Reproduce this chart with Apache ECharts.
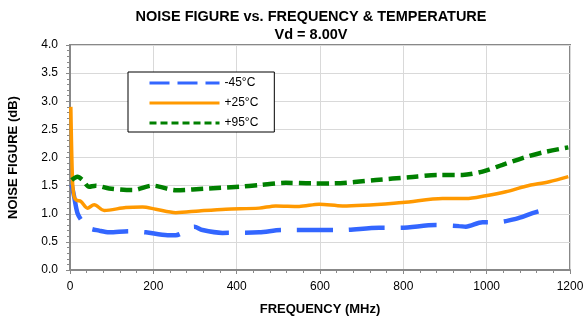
<!DOCTYPE html>
<html>
<head>
<meta charset="utf-8">
<script src="https://cdn.jsdelivr.net/npm/echarts@6/dist/echarts.min.js"></script>
<style>
  html, body { margin: 0; padding: 0; background: #fff; }
  #chart { width: 584px; height: 320px; }
</style>
</head>
<body>
<div id="chart"></div>
<script>
// -45C curve
var freqCold = [4, 10, 18, 30, 44, 70, 94, 142, 182, 234, 254, 298, 318, 366, 454, 510, 598, 650, 742, 790, 878, 934, 950, 990, 1022, 1070, 1110, 1158];
var nfCold   = [1.52, 1.30, 1.01, 0.86, 0.75, 0.70, 0.67, 0.69, 0.67, 0.62, 0.62, 0.77, 0.71, 0.66, 0.67, 0.71, 0.71, 0.71, 0.75, 0.75, 0.80, 0.78, 0.77, 0.85, 0.85, 0.91, 1.01, 1.11];
// +25C curve
var freqRoom = [2, 6, 10, 16, 26, 42, 58, 82, 134, 174, 206, 254, 310, 374, 454, 494, 550, 598, 654, 798, 894, 950, 998, 1046, 1094, 1150, 1196];
var nfRoom   = [2.90, 1.60, 1.30, 1.24, 1.22, 1.10, 1.16, 1.06, 1.11, 1.12, 1.08, 1.02, 1.05, 1.08, 1.10, 1.14, 1.13, 1.17, 1.14, 1.20, 1.27, 1.27, 1.32, 1.39, 1.49, 1.57, 1.66];
// +95C curve
var freqHot = [4, 18, 30, 46, 62, 94, 150, 198, 254, 334, 406, 454, 518, 582, 630, 734, 814, 886, 942, 990, 1038, 1086, 1134, 1196];
var nfHot   = [1.60, 1.66, 1.60, 1.48, 1.50, 1.45, 1.42, 1.50, 1.42, 1.45, 1.48, 1.51, 1.55, 1.54, 1.54, 1.60, 1.65, 1.69, 1.69, 1.75, 1.87, 1.99, 2.09, 2.18];

var seriesNames = ['-45°C', '+25°C', '+95°C'];
var seriesColors = ['#3366ff', '#ff9900', '#008000'];

function pairs(xs, ys) {
    var out = [];
    for (var i = 0; i < xs.length; i++) out.push([xs[i], ys[i]]);
    return out;
}

var myChart = echarts.init(document.getElementById('chart'));
var axisFont = 'Liberation Sans, Arial, sans-serif';

var option = {
    animation: false,
    title: {
        text: 'NOISE FIGURE vs. FREQUENCY & TEMPERATURE',
        subtext: 'Vd = 8.00V',
        left: 311,
        textAlign: 'center',
        top: 9,
        itemGap: 3,
        padding: 0,
        textStyle: { fontFamily: axisFont, fontSize: 14.5, fontWeight: 'bold', color: '#000' },
        subtextStyle: { fontFamily: axisFont, fontSize: 14.5, fontWeight: 'bold', color: '#000' }
    },
    grid: {
        left: 70, right: 14, top: 45, bottom: 50,
        outerBoundsMode: 'none',
        show: true,
        borderColor: '#888',
        borderWidth: 2
    },
    legend: {
        orient: 'vertical',
        left: 128,
        top: 72,
        padding: [5, 16, 3, 20],
        itemWidth: 70,
        itemHeight: 14,
        itemGap: 8,
        borderColor: '#000',
        borderWidth: 1,
        backgroundColor: '#fff',
        textStyle: { fontFamily: axisFont, fontSize: 12, color: '#000' },
        data: [
            { name: seriesNames[0], itemStyle: { opacity: 0 }, lineStyle: { width: 3, type: [20, 8], color: seriesColors[0] } },
            { name: seriesNames[1], itemStyle: { opacity: 0 }, lineStyle: { width: 3, type: 'solid', color: seriesColors[1] } },
            { name: seriesNames[2], itemStyle: { opacity: 0 }, lineStyle: { width: 3, type: [7, 4], color: seriesColors[2] } }
        ]
    },
    xAxis: {
        type: 'value',
        min: 0, max: 1200, interval: 200,
        name: 'FREQUENCY (MHz)',
        nameLocation: 'middle',
        nameGap: 33,
        nameTextStyle: { fontFamily: axisFont, fontSize: 13, fontWeight: 'bold', color: '#000' },
        axisLine: { lineStyle: { color: '#888', width: 2 } },
        axisTick: { show: true, length: 4, lineStyle: { color: '#888', width: 1 } },
        minorTick: { show: true, splitNumber: 5, length: 3, lineStyle: { color: '#888' } },
        axisLabel: {
            fontFamily: axisFont, fontSize: 12, color: '#000', margin: 11,
            formatter: function (v) { return String(v); }
        },
        splitLine: { show: true, lineStyle: { color: '#d9d9d9', width: 1 } }
    },
    yAxis: {
        type: 'value',
        min: 0, max: 4, interval: 0.5,
        name: 'NOISE FIGURE (dB)',
        nameLocation: 'middle',
        nameGap: 50,
        nameTextStyle: { fontFamily: axisFont, fontSize: 13, fontWeight: 'bold', color: '#000' },
        axisLine: { show: true, lineStyle: { color: '#888', width: 2 } },
        axisTick: { show: true, length: 4, lineStyle: { color: '#888' } },
        minorTick: { show: true, splitNumber: 5, length: 3, lineStyle: { color: '#888' } },
        axisLabel: {
            fontFamily: axisFont, fontSize: 12, color: '#000', margin: 12,
            formatter: function (v) { return v.toFixed(1); }
        },
        splitLine: { show: true, lineStyle: { color: '#d9d9d9', width: 1 } }
    },
    series: [
        {
            name: seriesNames[0], type: 'line', symbol: 'none', smooth: 0.3,
            data: pairs(freqCold, nfCold),
            lineStyle: { color: seriesColors[0], width: 4.5, type: [36, 16] },
            itemStyle: { color: seriesColors[0] }
        },
        {
            name: seriesNames[1], type: 'line', symbol: 'none', smooth: 0.3,
            data: pairs(freqRoom, nfRoom),
            lineStyle: { color: seriesColors[1], width: 3.5, type: 'solid' },
            itemStyle: { color: seriesColors[1] }
        },
        {
            name: seriesNames[2], type: 'line', symbol: 'none', smooth: 0.3,
            data: pairs(freqHot, nfHot),
            lineStyle: { color: seriesColors[2], width: 4.5, type: [12, 6] },
            itemStyle: { color: seriesColors[2] }
        }
    ]
};

myChart.setOption(option, true);
</script>
</body>
</html>
